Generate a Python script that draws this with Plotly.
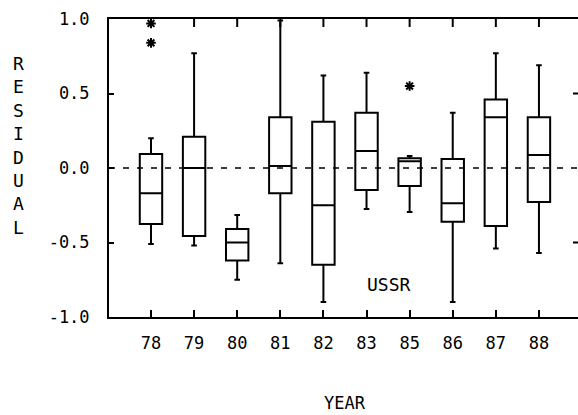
import plotly.graph_objects as go

# Residual distribution by year (USSR)
years = ["78", "79", "80", "81", "82", "83", "85", "86", "87", "88"]
upper_whisker = [0.20, 0.77, -0.315, 0.99, 0.62, 0.64, 0.08, 0.37, 0.77, 0.69]
q3_vals = [0.094, 0.21, -0.41, 0.34, 0.31, 0.37, 0.065, 0.06, 0.46, 0.34]
median_vals = [-0.17, 0.0, -0.50, 0.013, -0.25, 0.114, 0.045, -0.236, 0.34, 0.087]
q1_vals = [-0.376, -0.456, -0.62, -0.17, -0.65, -0.148, -0.12, -0.36, -0.39, -0.228]
lower_whisker = [-0.51, -0.52, -0.75, -0.64, -0.90, -0.275, -0.295, -0.90, -0.54, -0.57]

outlier_years = ["78", "78", "85"]
outlier_vals = [0.97, 0.84, 0.55]

y_ticks = [1.0, 0.5, 0.0, -0.5, -1.0]
y_ticktext = ["1.0", "0.5", "0.0", "-0.5", "-1.0"]

positions = list(range(1, len(years) + 1))
pos_of = dict(zip(years, positions))

FONT = "DejaVu Sans Mono"

fig = go.Figure()

fig.add_trace(go.Box(
    x=positions,
    q1=q1_vals,
    median=median_vals,
    q3=q3_vals,
    lowerfence=lower_whisker,
    upperfence=upper_whisker,
    boxpoints=False,
    width=0.52,
    whiskerwidth=0.25,
    line=dict(color="black", width=2),
    fillcolor="rgba(0,0,0,0)",
    hoverinfo="skip",
    showlegend=False,
))

fig.add_trace(go.Scatter(
    x=[pos_of[y] for y in outlier_years],
    y=outlier_vals,
    mode="markers",
    marker=dict(symbol="asterisk-open", size=8, color="black",
                line=dict(color="black", width=2)),
    hoverinfo="skip",
    showlegend=False,
    cliponaxis=False,
))

# dashed reference line at zero residual
fig.add_shape(type="line", xref="paper", yref="y", x0=0, x1=1, y0=0, y1=0,
              line=dict(color="black", width=1.5, dash="6px,8px"), layer="below")

# inward ticks on the right-hand side
for v in (0.5, -0.5):
    fig.add_shape(type="line", xref="paper", yref="y", xsizemode="pixel",
                  xanchor=1, x0=-5, x1=0, y0=v, y1=v,
                  line=dict(color="black", width=2))

# inward ticks along the top frame
for p in positions:
    fig.add_shape(type="line", xref="x", yref="paper", ysizemode="pixel",
                  yanchor=1, x0=p, x1=p, y0=-8, y1=0,
                  line=dict(color="black", width=2))

fig.add_annotation(text="USSR", x=6.52, y=-0.78, xref="x", yref="y",
                   showarrow=False, xanchor="center", yanchor="middle",
                   font=dict(family=FONT, size=18, color="black"))

fig.add_annotation(text="YEAR", x=0.503, y=-0.289, xref="paper", yref="paper",
                   showarrow=False, xanchor="center", yanchor="middle",
                   font=dict(family=FONT, size=17, color="black"))

fig.add_annotation(text="<br>".join("RESIDUAL"), x=-0.192, y=0.577,
                   xref="paper", yref="paper", showarrow=False,
                   xanchor="center", yanchor="middle",
                   font=dict(family=FONT, size=18, color="black"))

fig.update_layout(
    width=578, height=415,
    margin=dict(l=109, r=0, t=19, b=98),
    paper_bgcolor="white", plot_bgcolor="white",
    font=dict(family=FONT, size=17, color="black"),
    xaxis=dict(
        range=[0.026, 10.906],
        tickmode="array", tickvals=positions, ticktext=years,
        ticks="inside", ticklen=7, tickwidth=2, tickcolor="black",
        showline=True, linecolor="black", linewidth=2, mirror=True,
        showgrid=False, zeroline=False,
        ticklabelstandoff=10,
    ),
    yaxis=dict(
        range=[-1, 1],
        tickmode="array", tickvals=y_ticks, ticktext=y_ticktext,
        ticks="inside", ticklen=5, tickwidth=2, tickcolor="black",
        showline=True, linecolor="black", linewidth=2, mirror=False,
        showgrid=False, zeroline=False,
        ticklabelstandoff=14,
    ),
)

fig.write_html("out.html")
